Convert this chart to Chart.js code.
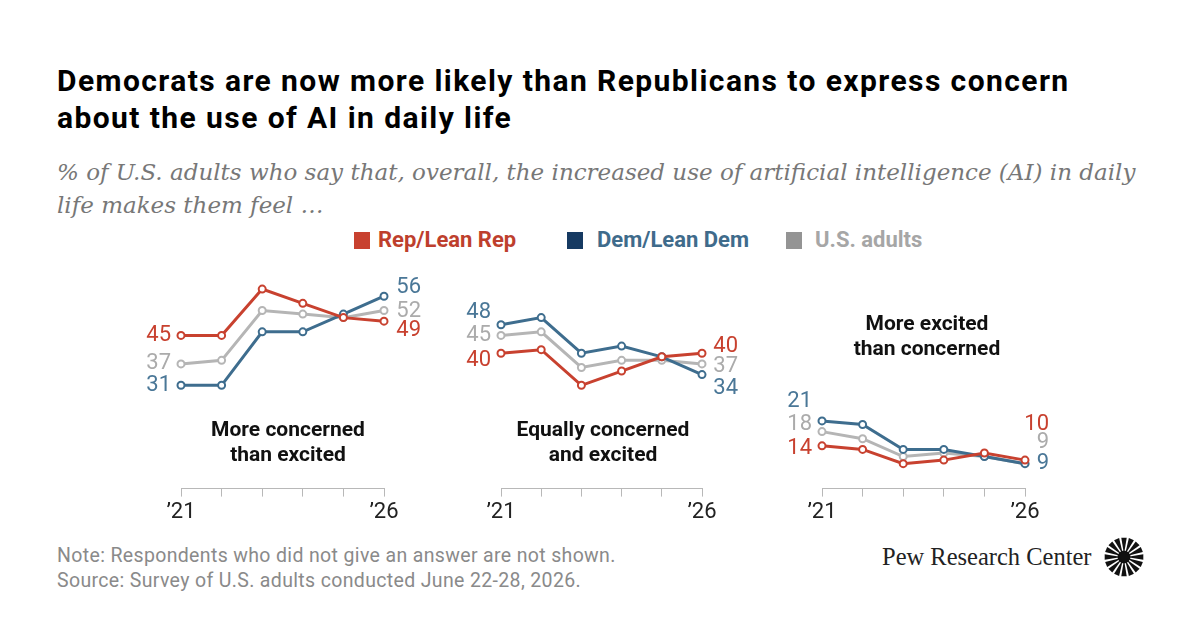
<!DOCTYPE html>
<html>
<head>
<meta charset="utf-8">
<script src="https://cdn.jsdelivr.net/npm/chart.js@4.4.1/dist/chart.umd.min.js"></script>
<style>
  body { margin: 0; width: 1200px; height: 628px; background: #fff; position: relative; overflow: hidden; font-family: Roboto, sans-serif; }
  .abs { position: absolute; white-space: nowrap; }
  canvas { position: absolute; }
  #title { left: 57px; top: 62px; font: 700 30px Roboto; letter-spacing: 1.42px; line-height: 37px; color: #000; }
  #subtitle { left: 57px; top: 156px; font: italic 400 23px "DejaVu Serif"; line-height: 33px; color: #777; }
  .leg { top: 227px; font: 700 22px Roboto; line-height: 26px; }
  .sq { top: 232px; width: 16px; height: 17px; }
  .panelText { font: 700 21px Roboto; line-height: 25px; color: #111; text-align: center; transform: translateX(-50%); }
  #note { left: 57px; top: 543px; font: 400 19.5px Roboto; letter-spacing: 0.35px; line-height: 25px; color: #8a8a8a; }
  #pew { left: 882px; top: 543px; font: 400 24.5px "Liberation Serif"; line-height: 28px; color: #222; }
</style>
</head>
<body>
<div id="title" class="abs">Democrats are now more likely than Republicans to express concern<br>about the use of AI in daily life</div>
<div id="subtitle" class="abs">% of U.S. adults who say that, overall, the increased use of artificial intelligence (AI) in daily<br>life makes them feel …</div>

<div class="abs sq" style="left:354px;background:#C8412F"></div>
<div class="abs leg" style="left:378px;color:#BE3F2D">Rep/Lean Rep</div>
<div class="abs sq" style="left:567px;background:#163A62"></div>
<div class="abs sq" style="left:786px;background:#949494"></div>
<div class="abs leg" style="left:597px;color:#3F6B8B">Dem/Lean Dem</div>
<div class="abs leg" style="left:815px;color:#A6A6A6">U.S. adults</div>

<canvas id="concerned" width="320" height="280" style="left:120px;top:260px"></canvas>
<canvas id="equal" width="320" height="280" style="left:440px;top:260px"></canvas>
<canvas id="excited" width="320" height="280" style="left:760px;top:260px"></canvas>

<div class="abs panelText" style="left:288px;top:417px">More concerned<br>than excited</div>
<div class="abs panelText" style="left:603px;top:417px">Equally concerned<br>and excited</div>
<div class="abs panelText" style="left:927px;top:311px">More excited<br>than concerned</div>

<div id="note" class="abs">Note: Respondents who did not give an answer are not shown.<br>Source: Survey of U.S. adults conducted June 22-28, 2026.</div>
<div id="pew" class="abs">Pew Research Center</div>
<svg id="logo" class="abs" style="left:1104px;top:537px" width="40" height="40" viewBox="-20 -20 40 40"></svg>

<script>
//*Data
const waves = ['2021', '2022', '2023', '2024', '2025', '2026']
const tickLabels = ['’21', '', '', '', '', '’26']

//? More concerned than excited
const repConcerned = [45, 45, 58, 54, 50, 49]
const demConcerned = [31, 31, 46, 46, 51, 56]
const allConcerned = [37, 38, 52, 51, 50, 52]
//? Equally concerned and excited
const repEqual = [40, 41, 31, 35, 39, 40]
const demEqual = [48, 50, 40, 42, 39, 34]
const allEqual = [45, 46, 36, 38, 38, 37]
//? More excited than concerned
const repExcited = [14, 13, 9, 10, 12, 10]
const demExcited = [21, 20, 13, 13, 11, 9]
const allExcited = [18, 16, 11, 12, 11, 9]

//*Colors
const RED = '#C8412F'
const BLUE = '#3E6D8E'
const GRAY = '#B5B5B5'

//*Plugin: first / last value labels
const endLabels = {
  id: 'endLabels',
  afterDatasetsDraw(chart, args, opts) {
    const ctx = chart.ctx
    ctx.save()
    ctx.font = '400 22px Roboto'
    ctx.textBaseline = 'middle'
    ctx.textAlign = 'right'
    chart.data.datasets.forEach((ds, i) => {
      const pts = chart.getDatasetMeta(i).data
      const first = pts[0]
      const last = pts[pts.length - 1]
      ctx.fillStyle = ds.labelColor
      ctx.fillText(ds.data[0], first.x - 10, first.y + opts.startDy[i])
      ctx.fillText(ds.data[ds.data.length - 1], last.x + opts.endDx, last.y + opts.endDy[i])
    })
    ctx.restore()
  }
}

const series = (data, color, labelColor) => ({
  data: data,
  borderColor: color,
  borderWidth: 3,
  pointRadius: 3.5,
  pointBorderWidth: 2,
  pointBackgroundColor: '#fff',
  pointBorderColor: color,
  pointHoverRadius: 3.5,
  tension: 0,
  clip: false,
  labelColor: labelColor,
})

//*Builds one panel
const makePanel = (id, rep, dem, all, pad, labelOpts) => {
  const ctx = document.getElementById(id).getContext('2d')
  return new Chart(ctx, {
    type: 'line',
    data: {
      labels: waves,
      datasets: [
        series(rep, RED, '#C8412F'),
        series(dem, BLUE, '#4A7797'),
        series(all, GRAY, '#ABABAB'),
      ],
    },
    options: {
      responsive: false,
      animation: false,
      events: [],
      layout: { padding: pad },
      plugins: {
        legend: { display: false },
        tooltip: { enabled: false },
        endLabels: labelOpts,
      },
      scales: {
        x: {
          offset: false,
          grid: { display: true, drawOnChartArea: false, drawTicks: true, tickLength: 8, color: '#b8b8b8' },
          border: { display: true, color: '#b8b8b8', width: 1 },
          ticks: {
            autoSkip: false,
            maxRotation: 0,
            padding: 3,
            color: '#222',
            font: { family: 'Roboto', size: 22 },
            callback: (v, i) => tickLabels[i],
          },
        },
        y: { display: false, min: 2, max: 60 },
      },
    },
    plugins: [endLabels],
  })
}

makePanel('concerned', repConcerned, demConcerned, allConcerned,
  { left: 61, right: 56, top: 22, bottom: 11 },
  { startDy: [0, 0, 0], endDy: [9, -9, 1], endDx: 37 })
makePanel('equal', repEqual, demEqual, allEqual,
  { left: 61, right: 58, top: 22, bottom: 11 },
  { startDy: [7, -12, 0], endDy: [-7, 14, 3], endDx: 36 })
makePanel('excited', repExcited, demExcited, allExcited,
  { left: 62, right: 55, top: 22, bottom: 11 },
  { startDy: [3, -19, -7], endDy: [-36, 0, -21], endDx: 24 })

//*Logo sunburst
const logo = document.getElementById('logo')
let shapes = '<circle r="6.5" fill="#111"/>'
for (let k = 0; k < 16; k++) {
  const a = (k / 16) * Math.PI * 2
  const w = 0.14
  const p = (ang, r) => `${(Math.cos(ang) * r).toFixed(2)},${(Math.sin(ang) * r).toFixed(2)}`
  shapes += `<polygon fill="#111" points="${p(a - 0.05, 4)} ${p(a - w, 19.5)} ${p(a + w, 19.5)} ${p(a + 0.05, 4)}"/>`
}
logo.innerHTML = shapes
</script>
</body>
</html>
